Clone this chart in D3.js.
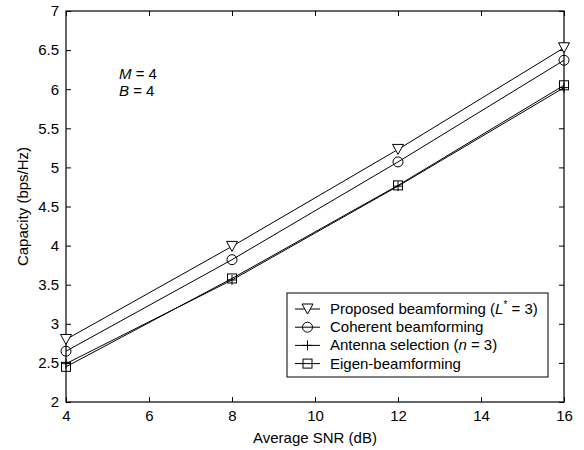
<!DOCTYPE html>
<html>
<head>
<meta charset="utf-8">
<script src="https://cdn.jsdelivr.net/npm/d3@7"></script>
<style>
  body { margin: 0; background: #fff; }
  text { font-family: "Liberation Sans", Arial, sans-serif; fill: #000; }
</style>
</head>
<body>
<svg id="chart" width="584" height="450"></svg>
<script>
// data
var snr = [4, 8, 12, 16];
var proposed = [2.80, 3.99, 5.23, 6.53];
var coherent = [2.65, 3.82, 5.07, 6.37];
var antenna = [2.49, 3.56, 4.76, 6.02];
var eigen = [2.45, 3.58, 4.77, 6.05];
var xTicks = [4, 6, 8, 10, 12, 14, 16];
var yTicks = [2, 2.5, 3, 3.5, 4, 4.5, 5, 5.5, 6, 6.5, 7];

var series = [
    { name: "proposed", values: proposed, marker: "tri" },
    { name: "coherent", values: coherent, marker: "circle" },
    { name: "antenna", values: antenna, marker: "plus" },
    { name: "eigen", values: eigen, marker: "square" }
];

var svg = d3.select("#chart");
var pLeft = 66, pRight = 564, pTop = 11, pBottom = 402;
var fs = "15px";

var x = d3.scaleLinear().domain([4, 16]).range([pLeft, pRight]);
var y = d3.scaleLinear().domain([2, 7]).range([pBottom, pTop]);

var g = svg.append("g");

// axes, MATLAB style: ticks inside on all four sides
function styleAxis(sel) {
    sel.select(".domain").remove();
    sel.selectAll("line").attr("stroke", "#000").attr("stroke-width", 1);
    sel.selectAll("text").style("font-size", fs)
        .style("font-family", "'Liberation Sans', Arial, sans-serif");
}

g.append("g").attr("transform", "translate(0," + pBottom + ")")
    .call(d3.axisBottom(x).tickValues(xTicks).tickSizeInner(-5).tickSizeOuter(0).tickPadding(8))
    .call(styleAxis);
g.append("g").attr("transform", "translate(0," + pTop + ")")
    .call(d3.axisTop(x).tickValues(xTicks).tickSizeInner(-5).tickSizeOuter(0).tickFormat(""))
    .call(styleAxis);
g.append("g").attr("transform", "translate(" + pLeft + ",0)")
    .call(d3.axisLeft(y).tickValues(yTicks).tickSizeInner(-5).tickSizeOuter(0).tickPadding(7)
        .tickFormat(d3.format("")))
    .call(styleAxis);
g.append("g").attr("transform", "translate(" + pRight + ",0)")
    .call(d3.axisRight(y).tickValues(yTicks).tickSizeInner(-5).tickSizeOuter(0).tickFormat(""))
    .call(styleAxis);

g.append("rect")
    .attr("x", pLeft).attr("y", pTop)
    .attr("width", pRight - pLeft).attr("height", pBottom - pTop)
    .attr("fill", "none").attr("stroke", "#000").attr("stroke-width", 1.2);

// axis labels
svg.append("text")
    .attr("x", (pLeft + pRight) / 2).attr("y", 443)
    .attr("text-anchor", "middle").style("font-size", fs)
    .text("Average SNR (dB)");
svg.append("text")
    .attr("transform", "translate(28," + (pTop + pBottom) / 2 + ") rotate(-90)")
    .attr("text-anchor", "middle").style("font-size", fs)
    .text("Capacity (bps/Hz)");

// markers
function drawMarker(sel, type, cx, cy) {
    if (type === "tri") {
        sel.append("path")
            .attr("d", "M" + (cx - 5.5) + "," + (cy - 5) + "L" + (cx + 5.5) + "," + (cy - 5) + "L" + cx + "," + (cy + 5) + "Z")
            .attr("fill", "#fff").attr("stroke", "#000");
    } else if (type === "circle") {
        sel.append("circle").attr("cx", cx).attr("cy", cy).attr("r", 5)
            .attr("fill", "none").attr("stroke", "#000");
    } else if (type === "plus") {
        sel.append("path")
            .attr("d", "M" + (cx - 5) + "," + cy + "H" + (cx + 5) + "M" + cx + "," + (cy - 5) + "V" + (cy + 5))
            .attr("stroke", "#000");
    } else if (type === "square") {
        sel.append("rect").attr("x", cx - 4.5).attr("y", cy - 4.5)
            .attr("width", 9).attr("height", 9)
            .attr("fill", "none").attr("stroke", "#000");
    }
}

var line = d3.line().x(function(d, i) { return x(snr[i]); }).y(function(d) { return y(d); });

series.forEach(function(s) {
    var sg = g.append("g");
    sg.append("path").datum(s.values)
        .attr("d", line).attr("fill", "none").attr("stroke", "#000").attr("stroke-width", 1);
    s.values.forEach(function(v, i) { drawMarker(sg, s.marker, x(snr[i]), y(v)); });
});

// annotation
var ann = svg.append("g").style("font-size", fs);
ann.append("text").attr("x", 119).attr("y", 79)
    .call(function(t) {
        t.append("tspan").style("font-style", "italic").text("M");
        t.append("tspan").text(" = 4");
    });
ann.append("text").attr("x", 119).attr("y", 96)
    .call(function(t) {
        t.append("tspan").style("font-style", "italic").text("B");
        t.append("tspan").text(" = 4");
    });

// legend
var lg = svg.append("g");
lg.append("rect").attr("x", 287).attr("y", 293).attr("width", 261).attr("height", 84)
    .attr("fill", "#fff").attr("stroke", "#000").attr("stroke-width", 1);

var legendRows = [
    function(t) {
        t.append("tspan").text("Proposed beamforming (");
        t.append("tspan").style("font-style", "italic").text("L");
        t.append("tspan").attr("dy", -6).style("font-size", "10px").text("*");
        t.append("tspan").attr("dy", 6).text(" = 3)");
    },
    function(t) { t.text("Coherent beamforming"); },
    function(t) {
        t.append("tspan").text("Antenna selection (");
        t.append("tspan").style("font-style", "italic").text("n");
        t.append("tspan").text(" = 3)");
    },
    function(t) { t.text("Eigen-beamforming"); }
];

series.forEach(function(s, i) {
    var cy = 309 + i * 18.2;
    lg.append("line").attr("x1", 295).attr("x2", 320).attr("y1", cy).attr("y2", cy)
        .attr("stroke", "#000");
    drawMarker(lg, s.marker, 307.5, cy);
    lg.append("text").attr("x", 330).attr("y", cy + 5).style("font-size", fs)
        .call(legendRows[i]);
});
</script>
</body>
</html>
